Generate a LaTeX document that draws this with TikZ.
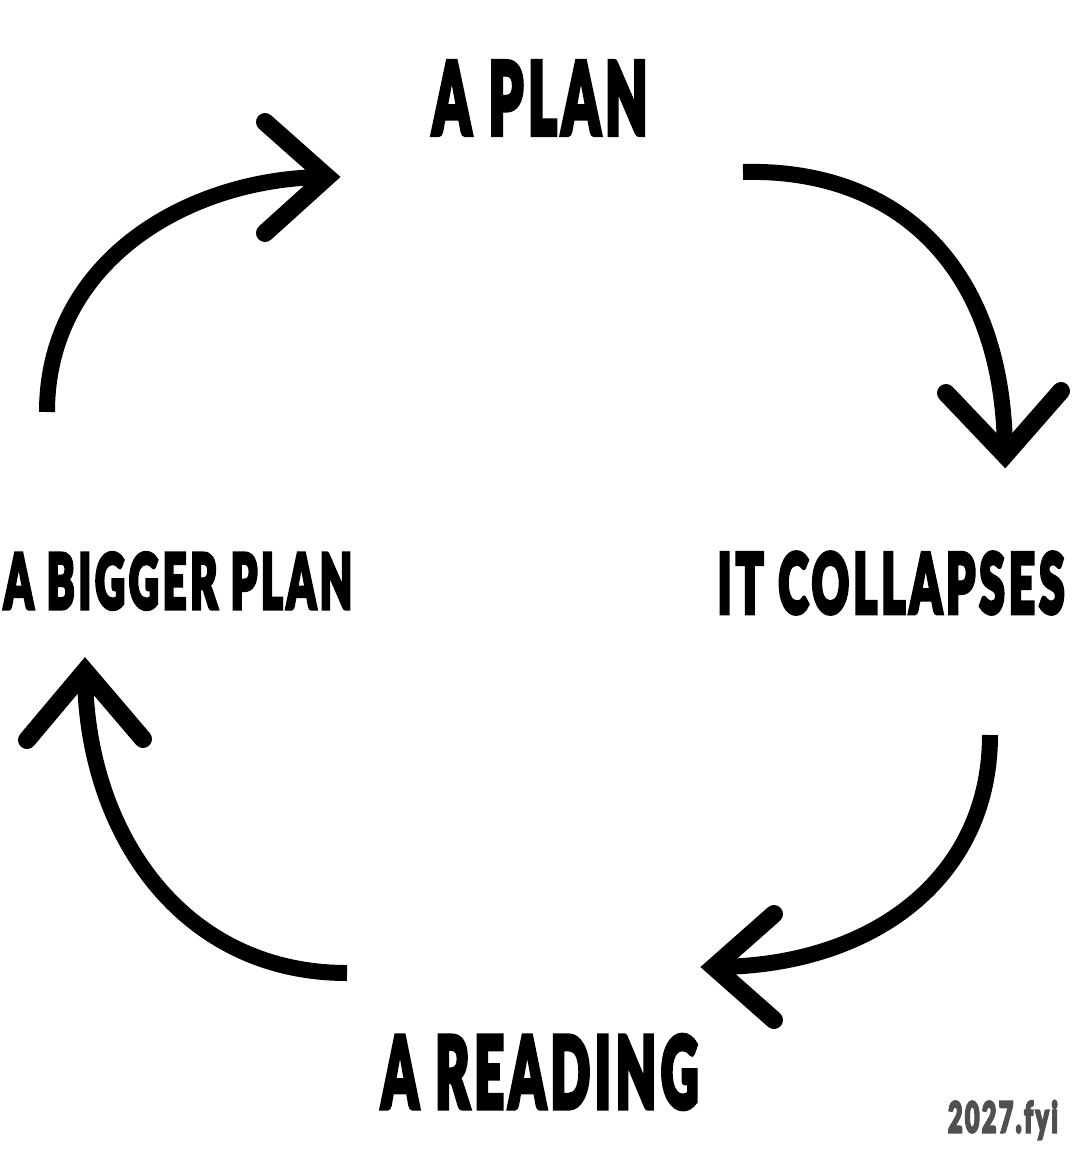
\documentclass[tikz,border=0pt]{standalone}
\usepackage{fontspec}
\newfontfamily\memefont{Lato Black}[FakeBold=5, LetterSpace=9]
\newcommand{\fitword}[3]{\resizebox{#1}{#2}{\memefont #3}}
\definecolor{markgray}{HTML}{505050}

\begin{document}
\begin{tikzpicture}[x=1pt, y=-1pt, word/.style={inner sep=0pt, anchor=center},
		curl/.style={line width=16pt}, barb/.style={line width=18pt, line cap=round, miter limit=4}]
	\useasboundingbox (0,0) rectangle (1080,1159);
	
	% the four steps
	\node[word] (plan) at (540,98) {\fitword{215pt}{73pt}{A PLAN}};
	\node[word] (collapse) at (891,583) {\fitword{347pt}{61pt}{IT COLLAPSES}};
	\node[word] (reading) at (540,1072) {\fitword{317pt}{73pt}{A READING}};
	\node[word] (bigger) at (178,581) {\fitword{348pt}{56pt}{A BIGGER PLAN}};
	\node[word, text=markgray] (mark) at (1003,1120) {\fitword{110pt}{32pt}{2027.fyi}};
	
	% arrow ends and barbs
	\coordinate (tl0) at (47,412);
	\coordinate (tl1) at (327,177);
	\coordinate (tla) at (265,122);
	\coordinate (tlb) at (265,233);
	\coordinate (tr0) at (743,172);
	\coordinate (tr1) at (1005,455);
	\coordinate (tra) at (946,393);
	\coordinate (trb) at (1061,391);
	\coordinate (br0) at (990,735);
	\coordinate (br1) at (714,967);
	\coordinate (bra) at (774,914);
	\coordinate (brb) at (774,1020);
	\coordinate (bl0) at (347,973);
	\coordinate (bl1) at (85,671);
	\coordinate (bla) at (27,740);
	\coordinate (blb) at (143,739);
	
	\draw[curl] (tl0) .. controls (47,260) and (190,177) .. (tl1);
	\draw[curl] (tr0) .. controls (900,168) and (1005,270) .. (tr1);
	\draw[curl] (br0) .. controls (990,880) and (870,967) .. (br1);
	\draw[curl] (bl0) .. controls (180,973) and (85,830) .. (bl1);
	
	\draw[barb] (tla) -- (tl1) -- (tlb);
	\draw[barb] (tra) -- (tr1) -- (trb);
	\draw[barb] (bra) -- (br1) -- (brb);
	\draw[barb] (bla) -- (bl1) -- (blb);
	
\end{tikzpicture}
\end{document}
